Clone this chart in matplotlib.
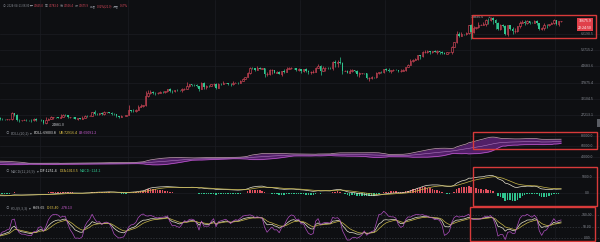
import numpy as np
import pandas as pd
import matplotlib
matplotlib.use('Agg')
import matplotlib.pyplot as plt
import matplotlib.transforms as mtransforms
from matplotlib.patches import Rectangle
from matplotlib.ticker import NullLocator

plt.rcParams['font.family'] = ['Noto Sans CJK SC', 'DejaVu Sans']

BG = '#0e0f12'
UP = '#d8485a'
DOWN = '#2fc48e'
GREY = '#858991'
GRID = '#1b1d22'
BOX = '#d83a3a'
FS = 2.6

# closes before the first shown candle (2023-07-24 .. 2023-08-22), only feed the indicators
warm_close = [29176, 29228, 29352, 29212, 29314, 29352, 29275, 29230, 29705, 29186,
              29193, 29113, 29074, 29042, 29183, 29765, 29561, 29429, 29398, 29415,
              29282, 29408, 29170, 28701, 26664, 26050, 26100, 26189, 26124, 26052]

# daily candles shown, 2023-08-23 .. 2024-04-11 (open = previous close)
close = [
    # aug 23-31
    26432, 26163, 26050, 26008, 26089, 26106, 27728, 27297, 25931,
    # sep
    25800, 25869, 25969, 25812, 25779, 25753, 26240, 25905, 25895, 25832,
    25162, 25840, 26228, 26539, 26608, 26568, 26527, 26762, 27211, 27132,
    26567, 26580, 26579, 26256, 26298, 26217, 26352, 27021, 26911, 26967,
    # oct
    27983, 27530, 27429, 27794, 27410, 27931, 27956, 27917, 27590, 27392,
    26876, 26756, 26862, 26852, 27154, 28500, 28395, 28320, 28713, 29669,
    29909, 29992, 33069, 33922, 34502, 34156, 33909, 34089, 34538, 34502, 34667,
    # nov
    35437, 34938, 34732, 35082, 35049, 35037, 35443, 35655, 36693, 37313,
    37138, 37054, 36502, 35537, 37880, 36154, 36596, 36585, 37386, 37476,
    35813, 37432, 37289, 37720, 37796, 37479, 37254, 37831, 37858, 37712,
    # dec
    38688, 39476, 39978, 41980, 44080, 43746, 43292, 44170, 43713, 43789,
    41253, 41492, 42869, 43022, 41940, 42278, 41374, 42657, 42272, 43652,
    43869, 43997, 43739, 43016, 43613, 42520, 43442, 42627, 42100, 42142, 42284,
    # jan
    44180, 44946, 42845, 44152, 44163, 43989, 43944, 46970, 46105, 46633,
    46340, 42782, 42847, 41733, 42512, 43138, 42776, 41323, 41679, 41682,
    41580, 39568, 39897, 40084, 39961, 41823, 42120, 42031, 43300, 42942, 42580,
    # feb
    43082, 43200, 43011, 42582, 42708, 43098, 44349, 45289, 47147, 47771,
    48293, 49958, 49743, 51826, 51938, 52160, 51663, 52122, 51779, 52284,
    51839, 51304, 50731, 51571, 51733, 54476, 57037, 62432, 61130,
    # mar
    62387, 61987, 63113, 68245, 63724, 66074, 66823, 68124, 68313, 68955,
    72078, 71452, 73072, 71388, 69499, 65300, 68393, 67609, 61937, 67840,
    65501, 63796, 64037, 67211, 69880, 69988, 69455, 70744, 69892, 69645, 71333,
    # apr 1-11
    69702, 65446, 65980, 68508, 67837, 68896, 69360, 71620, 69146, 70665.0, 70675.9]

high = [
    26820, 26560, 26300, 26125, 26180, 26250, 28150, 27760, 27580,
    26140, 25980, 26120, 26100, 25860, 26040, 26450, 26440, 25940, 26000,
    25880, 26560, 26400, 26860, 26780, 26670, 26630, 27410, 27490, 27390,
    27160, 26740, 26640, 26740, 26430, 26390, 26820, 27310, 27230, 27090,
    28060, 28580, 27670, 27830, 28120, 28290, 28000, 28100, 27990, 27730,
    27480, 26830, 27100, 26960, 27290, 30000, 28610, 28990, 28920, 30200,
    30350, 30200, 34740, 35198, 35130, 34840, 34490, 34470, 34750, 34860, 34720,
    35580, 35985, 34950, 35250, 35380, 35280, 35900, 36000, 37970, 37530,
    37400, 37250, 37430, 36760, 37980, 37930, 36850, 36850, 37500, 37750,
    37860, 37890, 37650, 38420, 37890, 37840, 37570, 38400, 38300, 38150,
    38990, 39700, 40250, 42420, 44490, 44300, 44050, 44700, 44400, 44040,
    43800, 42100, 43430, 43420, 43080, 42740, 42440, 42760, 43500, 44280,
    44240, 44370, 44040, 43950, 43800, 43600, 43680, 43800, 43120, 42600, 42900,
    44190, 45900, 45500, 44770, 44340, 44230, 44500, 47250, 47890, 47700,
    48970, 46500, 43260, 43070, 43400, 43580, 43200, 42930, 42200, 41880,
    41870, 41690, 40130, 40550, 40280, 42220, 42200, 42840, 43330, 43880, 43740,
    43290, 43490, 43380, 43120, 43530, 43400, 44530, 45600, 48200, 48170,
    48590, 50330, 50370, 52080, 52820, 52570, 52200, 52480, 52985, 52580,
    52380, 52030, 51550, 51660, 51960, 54900, 57580, 64000, 63670,
    63230, 62430, 63230, 68500, 69000, 67640, 67000, 69990, 68590, 70000,
    72800, 72920, 73650, 73835.5, 72420, 70040, 68920, 68950, 68120, 68030,
    68240, 66650, 65970, 67620, 71150, 71560, 71730, 71550, 70900, 70330, 71370,
    71370, 69680, 66900, 69290, 68720, 69000, 70280, 72800, 71760, 71200, 70783.0]

low = [
    25800, 25850, 25750, 25970, 25960, 25880, 25910, 27030, 25660,
    25330, 25720, 25800, 25600, 25570, 25370, 25610, 25640, 25800, 25600,
    24881.0, 25130, 25760, 26130, 26220, 26470, 26400, 26380, 26670, 26850,
    26360, 26530, 26500, 26130, 25990, 26100, 26120, 26340, 26670, 26890,
    26950, 27330, 27160, 27220, 27340, 27180, 27850, 27710, 27270, 27300,
    26560, 26530, 26700, 26810, 26840, 27110, 28080, 28130, 28180, 28600,
    29470, 29660, 29880, 32860, 33700, 33880, 33350, 33870, 33930, 34080, 34040,
    34300, 34330, 34100, 34530, 34730, 34760, 34530, 35100, 35530, 36340,
    36760, 36720, 36340, 34800, 35360, 35510, 35540, 36180, 36420, 36770,
    35630, 35760, 36870, 37250, 37600, 37150, 36710, 36880, 37600, 37500,
    37620, 38650, 39300, 39970, 41420, 43340, 42820, 43080, 43580, 43580,
    40222, 40680, 40900, 41410, 41670, 41890, 41250, 40530, 41810, 42180,
    43340, 43410, 43580, 42760, 42730, 41680, 42100, 42330, 41300, 41520, 41960,
    42180, 44150, 40750, 42630, 42480, 43410, 43570, 43200, 44300, 44300,
    45600, 41500, 42440, 41720, 41720, 42050, 42200, 40680, 40280, 41500,
    41450, 39430, 38555, 39490, 39510, 39820, 41390, 41620, 41800, 42690, 42300,
    41880, 42590, 42880, 42220, 42260, 42570, 42790, 44330, 45240, 46800,
    47530, 47710, 48300, 49360, 51280, 51370, 50630, 51270, 51710, 50620,
    50560, 50880, 50520, 50580, 51290, 50900, 54450, 56690, 60360,
    60770, 61600, 61320, 62310, 59005, 62800, 65560, 66080, 67960, 68230,
    67190, 68850, 71330, 68560, 65630, 64780, 64550, 66580, 61500, 60775,
    64530, 62260, 63000, 63790, 66390, 69280, 68380, 68900, 69070, 69560, 69560,
    68060, 64550, 64490, 65060, 66000, 67450, 68800, 69040, 68200, 67520, 70506.4]

main_ticks = [62190.5, 52715.2, 44683.6, 37875.4, 32104.5, 27213.1]
boll_ticks = [80000, 60000, 40000]
macd_ticks = [5000, 0]
kdj_ticks = [100, 50, 0]

# ---- indicators ----
c_all = pd.Series(warm_close + close, dtype=float)
h_all = pd.Series(warm_close + high, dtype=float)
l_all = pd.Series(warm_close + low, dtype=float)
nw = len(warm_close)

mid = c_all.rolling(20).mean()
sd = c_all.rolling(20).std(ddof=0)
ub = mid + 2 * sd
lb = mid - 2 * sd

dif = c_all.ewm(span=12, adjust=False).mean() - c_all.ewm(span=26, adjust=False).mean()
dea = dif.ewm(span=9, adjust=False).mean()
hist = 2 * (dif - dea)

llv = l_all.rolling(9, min_periods=1).min()
hhv = h_all.rolling(9, min_periods=1).max()
rsv = ((c_all - llv) / (hhv - llv) * 100).fillna(50)
K, D = [], []
k = d = 50.0
for r in rsv:
    k = 2 / 3 * k + r / 3
    d = 2 / 3 * d + k / 3
    K.append(k)
    D.append(d)
K = np.array(K)
D = np.array(D)
J = 3 * K - 2 * D

mid, ub, lb = mid.values[nw:], ub.values[nw:], lb.values[nw:]
dif, dea, hist = dif.values[nw:], dea.values[nw:], hist.values[nw:]
K, D, J = K[nw:], D[nw:], J[nw:]

c = np.array(close)
o = np.r_[warm_close[-1], c[:-1]]
h = np.array(high)
l = np.array(low)
x = np.arange(len(c))

# ---- layout ----
W, H = 600, 242
fig = plt.figure(figsize=(6, 2.42), dpi=100, facecolor=BG)
renderer = fig.canvas.get_renderer()


def panel(top, bottom):
    ax = fig.add_axes([0, 1 - bottom / H, 1, (bottom - top) / H])
    ax.set_facecolor(BG)
    for s in ax.spines.values():
        s.set_visible(False)
    ax.set_xticks([])
    ax.set_yticks([])
    ax.set_xlim(1.1, 248)
    for gx in [40, 128, 215, 300, 385, 470, 555]:
        ax.axvline(gx / 2.43 + 1.1, color=GRID, lw=0.5, zorder=0)
    return ax


def ylabels(ax, vals, texts, ls='-', gcol=GRID):
    tr = mtransforms.blended_transform_factory(ax.transAxes, ax.transData)
    for v, t in zip(vals, texts):
        ax.axhline(v, color=gcol, lw=0.5, ls=ls, zorder=0)
        ax.text(587 / W, v, t, transform=tr, ha='center', va='center',
                fontsize=FS, color=GREY)


def header(ypx, parts, x0=4, gap=1.6, fs=FS):
    xp = x0
    for t, col in parts:
        txt = fig.text(xp / W, 1 - ypx / H, t, fontsize=fs, color=col, va='center', ha='left')
        xp += txt.get_window_extent(renderer=renderer).width + gap


# main candles
ax = panel(0, 128)
ax.set_yscale('log')
ax.set_ylim(23840, 87960)
ax.yaxis.set_minor_locator(NullLocator())
ax.set_yticks([])
ylabels(ax, main_ticks, ['%.1f' % v for v in main_ticks])
up = c >= o
ax.vlines(x, l, h, color=np.where(up, UP, DOWN), lw=0.5, zorder=2)
ax.bar(x[up], np.abs(c - o)[up], bottom=np.minimum(o, c)[up], width=0.62,
       facecolor=BG, edgecolor=UP, lw=0.45, zorder=3)
ax.bar(x[~up], np.abs(c - o)[~up], bottom=np.minimum(o, c)[~up], width=0.62,
       color=DOWN, lw=0, zorder=3)
imax = int(np.argmax(h))
imin = int(np.argmin(l))
ax.annotate('%.1f' % h[imax], (imax, h[imax]), xytext=(-7, 0), textcoords='offset points',
            ha='right', va='center', fontsize=FS, color='#c9ccd1',
            arrowprops=dict(arrowstyle='-', color='#c9ccd1', lw=0.4))
ax.annotate('%.1f' % l[imin], (imin, l[imin]), xytext=(6, -1), textcoords='offset points',
            ha='left', va='center', fontsize=FS, color='#c9ccd1',
            arrowprops=dict(arrowstyle='-', color='#c9ccd1', lw=0.4))
tr = mtransforms.blended_transform_factory(ax.transAxes, ax.transData)
ax.text(585 / W, c[-1], '%.1f' % c[-1], transform=tr, ha='center', va='center', fontsize=FS,
        color='white', bbox=dict(boxstyle='square,pad=0.3', fc='#e0404a', ec='none'))
fig.text(585 / W, 1 - 28 / H, '22:24:50', ha='center', va='center', fontsize=FS,
         color='white', bbox=dict(boxstyle='square,pad=0.3', fc='#e0404a', ec='none'))
# small scroll handle at the right edge
fig.add_artist(Rectangle((597 / W, 1 - 127 / H), 3 / W, 8 / H, transform=fig.transFigure,
                         color='#5a5d64', lw=0))

header(6, [('⊙', GREY), ('2024-04-11 08:00', GREY),
           ('开', GREY), ('70665.0', UP), ('高', GREY), ('70783.0', UP),
           ('低', GREY), ('70506.4', UP), ('收', GREY), ('70675.9', UP),
           ('涨幅', GREY), ('0.02%(21.0)', UP), ('振幅', GREY), ('0.67%', UP)],
       x0=3, gap=1.0, fs=2.05)

# BOLL
ax = panel(128, 166)
ax.set_ylim(21905, 94286)
ylabels(ax, boll_ticks, ['%.1f' % v for v in boll_ticks])
ax.fill_between(x, lb, ub, color='#5d2377', alpha=0.85, lw=0)
ax.plot(x, ub, color='#c9a0b8', lw=0.5)
ax.plot(x, lb, color='#c35bd0', lw=0.5)
ax.plot(x, mid, color='#b07ac0', lw=0.4)
header(133, [('⊙', GREY), ('BOLL(20,2)', GREY), ('▾', GREY),
             ('BOLL:69003.8', '#e8e8e8'), ('UB:72916.4', '#e6c84a'),
             ('LB:65091.2', '#d05fd8')], x0=5)

# MACD
ax = panel(166, 205)
ax.set_ylim(-3750, 8437)
ylabels(ax, macd_ticks, ['5000.0', '0.0'])
hcol = np.where(hist >= 0, '#e0505e', DOWN)
ax.bar(x, hist, width=0.6, color=hcol, lw=0)
ax.plot(x, dif, color='#e8e4d0', lw=0.5)
ax.plot(x, dea, color='#c9b84a', lw=0.5)
header(171, [('⊙', GREY), ('MACD(12,26,9)', GREY), ('▾', GREY),
             ('DIF:1251.4', '#e8e8e8'), ('DEA:1013.5', '#e6c84a'),
             ('MACD:-124.2', DOWN)], x0=5)

# KDJ
ax = panel(205, 242)
ax.set_ylim(-17.4, 143.5)
ylabels(ax, kdj_ticks, ['100.00', '50.00', '0.00'], ls=(0, (2, 2)), gcol='#3a3d44')
ax.plot(x, K, color='#e8e4d0', lw=0.5)
ax.plot(x, D, color='#c9b84a', lw=0.5)
ax.plot(x, J, color='#b04fc0', lw=0.5)
header(208, [('⊙', GREY), ('KDJ(9,3,3)', GREY), ('▾', GREY),
             ('K:69.65', '#e8e8e8'), ('D:65.40', '#e6c84a'),
             ('J:78.13', '#d05fd8')], x0=5)

# highlight boxes
for x0, y0, x1, y1 in [(472, 15, 596, 38), (473, 132, 597, 149),
                       (473, 167, 597, 206), (470, 207, 595, 241)]:
    fig.add_artist(Rectangle((x0 / W, 1 - y1 / H), (x1 - x0) / W, (y1 - y0) / H,
                             transform=fig.transFigure, fill=False, ec=BOX, lw=1.0))

fig.savefig('out.png', dpi=100, facecolor=BG)
